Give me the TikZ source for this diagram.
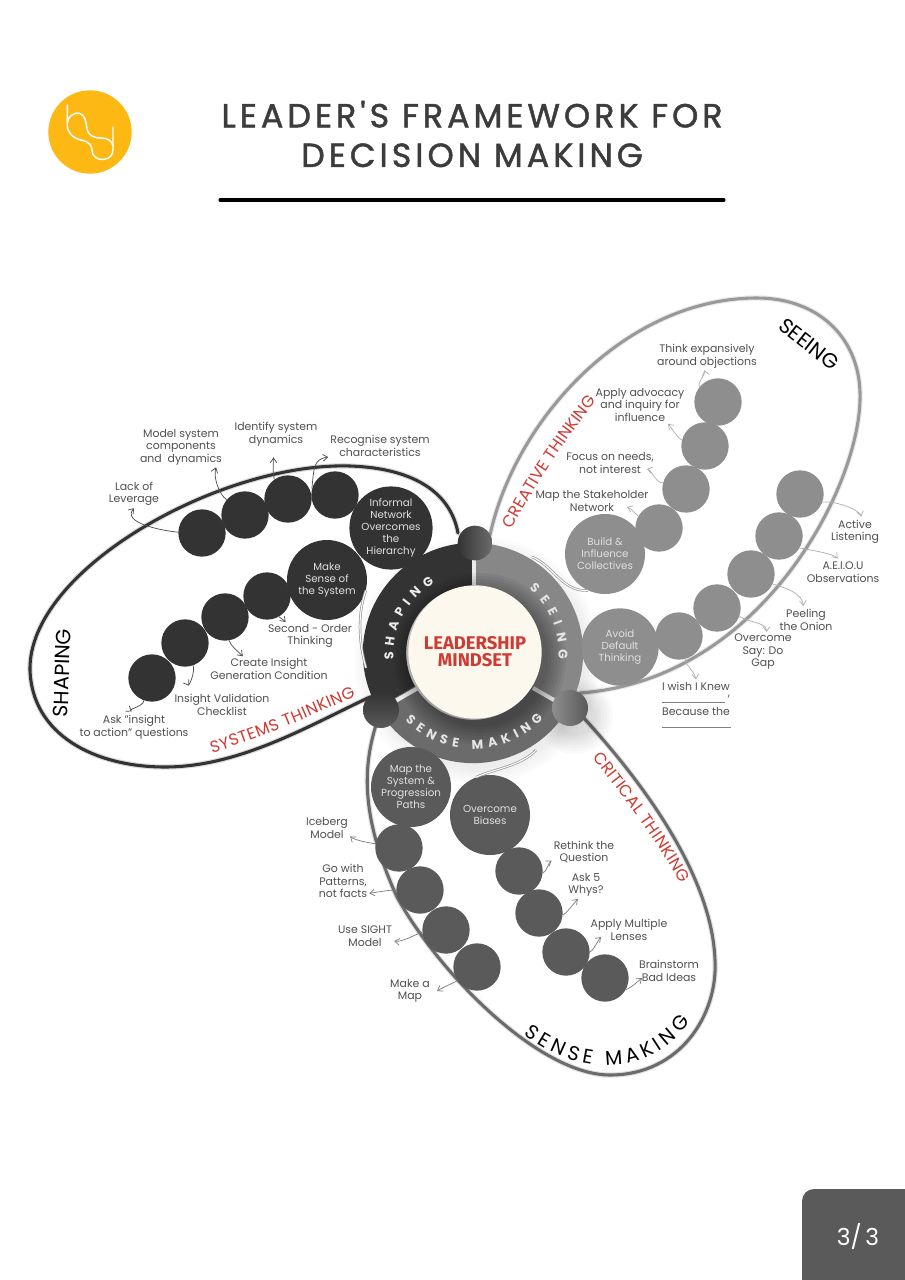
\documentclass[tikz,border=0pt]{standalone}
\usepackage{fontspec}
\setmainfont{Poppins}
\newfontfamily\titlefont[LetterSpace=12,RawFeature={embolden=1.4}]{Poppins}
\newfontfamily\corefont{Fira Sans}
\usetikzlibrary{arrows.meta,decorations.text,calc,shadings}
\definecolor{shapecol}{HTML}{333333}
\definecolor{seecol}{HTML}{8E8E8E}
\definecolor{sensecol}{HTML}{5A5A5A}
\definecolor{redlab}{HTML}{CF3A32}
\definecolor{labcol}{HTML}{505050}
\definecolor{cream}{HTML}{FDF8EE}
\definecolor{logocol}{HTML}{FDB813}
\tikzset{
  bead/.style={circle,inner sep=0pt,minimum size=35.5pt,fill=#1,draw=none},
  hub/.style={circle,inner sep=0pt,minimum size=60pt,fill=#1,draw=none,text=white!88!black,align=center,
     font=\fontsize{7.7pt}{9pt}\selectfont},
  lab/.style={align=center,text=labcol,inner sep=1.5pt,font=\fontsize{8.2pt}{9.4pt}\selectfont},
  arr/.style={draw=#1,line width=.55pt,-{Straight Barb[length=3.5pt,width=5pt]}},
  petal/.style={draw=#1,line width=2.3pt,line cap=round,line join=round},
  halo/.style={draw=#1,line width=4pt,opacity=.18,line cap=round},
  link/.style={draw=#1,double=white,double distance=.8pt,line width=.55pt},
  bigtext/.style={text=black,inner sep=0pt,font=\fontsize{15.5pt}{16pt}\selectfont},
  knob/.style={circle,inner sep=0pt,minimum size=#1,draw=none},
}
\begin{document}
\begin{tikzpicture}[x=.75pt,y=-.75pt]
\useasboundingbox (0,0) rectangle (905,1280);
\fill[white] (0,0) rectangle (905,1280);

% header
\node[circle,fill=logocol,minimum size=62.5pt,inner sep=0pt] (logo) at (90,132) {};
\draw[white,line width=1.1pt,line cap=round]
  (67.3,105) -- (67.3,125) .. controls (67.3,133) and (73,138) .. (81,140)
  .. controls (90,142) and (92,146) .. (92,150) .. controls (92,156) and (97,160) .. (103,159.5)
  .. controls (110,159) and (113,155) .. (113,149) -- (113,127);
\draw[white,line width=1.1pt,line cap=round]
  (67.5,122) .. controls (69,115) and (75,112) .. (80,113.5)
  .. controls (85,115) and (86,122) .. (87,129) .. controls (88,135) and (93,138) .. (101,138)
  .. controls (108,138) and (112,141) .. (113,146);
\node[inner sep=0pt,text=labcol!75!black,font=\titlefont\fontsize{25pt}{29.4pt}\selectfont,align=center] (title) at (472,134)
  {LEADER'S FRAMEWORK FOR\\[0.3pt]DECISION MAKING};
\coordinate (ruleL) at (220,200);
\coordinate (ruleR) at (724,200);
\draw[black,line width=2.3pt,line cap=round] (ruleL) -- (ruleR);

% page tab
\fill[sensecol] (905,1189) -- (814,1189) arc[start angle=-90,end angle=-180,radius=12] -- (802,1280) -- (905,1280) -- cycle;
\node[text=white,inner sep=0pt,font=\fontsize{17.5pt}{20pt}\selectfont] (page) at (858,1236) {3/\,3};

% petal halos and outlines
\def\shapepath{(458,533) .. controls (450,490) and (410,468) .. (350,466) .. controls (220,462) and (28,570) .. (30,670)
  .. controls (32,735) and (95,767) .. (165,767) .. controls (240,767) and (310,725) .. (370,697)}
\def\seepath{(490,535) .. controls (515,420) and (625,298) .. (757,298) .. controls (820,298) and (862,340) .. (860,400)
  .. controls (858,490) and (760,680) .. (580,693)}
\def\sensepath{(376,725) .. controls (362,770) and (362,820) .. (397,897) .. controls (440,975) and (540,1075) .. (610,1075)
  .. controls (680,1075) and (718,1015) .. (715,960) .. controls (712,880) and (650,790) .. (582,716)}
\draw[halo=shapecol] \shapepath;
\draw[petal=shapecol] \shapepath;
\draw[halo=seecol] \seepath;
\draw[petal=seecol!90!white] \seepath;
\draw[halo=sensecol] \sensepath;
\draw[petal=sensecol!90!white] \sensepath;

% soft shadow round the ring and the right knob
\foreach \r in {124,121,...,108} \fill[black,opacity=.012] (478,660) circle (\r);
\foreach \r in {38,35,...,18} \fill[black,opacity=.018] (575,716) circle (\r);

% ring
\draw[shapecol,line width=32.5pt] plot[domain=90:210,samples=50] ({473+88.5*cos(\x)},{653-88.5*sin(\x)});
\draw[seecol!95!black,line width=32.5pt] plot[domain=-30:90,samples=50] ({473+88.5*cos(\x)},{653-88.5*sin(\x)});
\draw[sensecol!90!white,line width=32.5pt] plot[domain=210:330,samples=50] ({473+88.5*cos(\x)},{653-88.5*sin(\x)});
\coordinate (gapA) at (474,585);
\coordinate (gapAo) at (474,548);
\coordinate (gapB) at (418,688);
\coordinate (gapBo) at (385,707);
\coordinate (gapC) at (533,688);
\coordinate (gapCo) at (566,707);
\draw[white!92!black,line width=3pt] (gapA) -- (gapAo);
\draw[white!92!black,line width=3pt] (gapB) -- (gapBo);
\draw[white!92!black,line width=3pt] (gapC) -- (gapCo);
% shadow of the core on the ring
\foreach \r in {86,83,...,68} \fill[black,opacity=.05] (480,659) circle (\r);

% ring text
\path[decorate,decoration={text along path,text align={fit to path},
  text={|\color{white!92!black}\bfseries\fontsize{9.5pt}{10pt}\selectfont|SHAPING}}]
  plot[domain=185:119,samples=40] ({473+79.5*cos(\x)},{653-79.5*sin(\x)});
\path[decorate,decoration={text along path,text align={fit to path},
  text={|\color{white!90!black}\bfseries\fontsize{9.5pt}{10pt}\selectfont|SEEING}}]
  plot[domain=49:-4,samples=40] ({473+85.5*cos(\x)},{653-85.5*sin(\x)});
\path[decorate,decoration={text along path,text align={fit to path},
  text={|\color{white!90!black}\bfseries\fontsize{9.5pt}{10pt}\selectfont|SENSE MAKING}}]
  plot[domain=225:317,samples=50] ({473+96*cos(\x)},{653-96*sin(\x)});

% core
\node[circle,fill=cream,minimum size=100pt,inner sep=0pt,text=redlab,align=center,
  font=\corefont\bfseries\fontsize{13.8pt}{12.8pt}\selectfont] (core) at (475,652) {\raisebox{-1pt}{LEADERSHIP}\\\raisebox{-1pt}{MINDSET}};

% knobs
\node[knob=26pt,left color=shapecol,right color=gray!85!black] (k1) at (475,543) {};
\node[knob=27pt,top color=shapecol,bottom color=sensecol] (k2) at (381,710) {};
\node[knob=27pt,left color=seecol,right color=sensecol] (k3) at (570,708) {};

% SHAPING beads
\node[bead=shapecol] (a1) at (202,533) {};
\node[bead=shapecol] (a2) at (245,515) {};
\node[bead=shapecol] (a3) at (288,499) {};
\node[bead=shapecol] (a4) at (335,495) {};
\node[hub=shapecol] (ah) at (391,528) {Informal\\Network\\Overcomes\\the\\Hierarchy};
\node[bead=shapecol] (b1) at (152,678) {};
\node[bead=shapecol] (b2) at (185,643) {};
\node[bead=shapecol] (b3) at (225,617) {};
\node[bead=shapecol] (b4) at (267,596) {};
\node[hub=shapecol] (bh) at (327,580) {Make\\Sense of\\the System};

% SEEING beads
\node[bead=seecol] (c1) at (718,402) {};
\node[bead=seecol] (c2) at (705,446) {};
\node[bead=seecol] (c3) at (686,489) {};
\node[bead=seecol] (c4) at (659,528) {};
\node[hub=seecol] (ch) at (605,554) {Build \&\\Influence\\Collectives};
\node[bead=seecol] (d1) at (800,494) {};
\node[bead=seecol] (d2) at (779,536) {};
\node[bead=seecol] (d3) at (751,574) {};
\node[bead=seecol] (d4) at (717,608) {};
\node[bead=seecol] (d5) at (679,636) {};
\node[hub=seecol,minimum size=58pt] (dh) at (620,647) {Avoid\\Default\\Thinking};

% SENSE MAKING beads
\node[hub=sensecol] (eh) at (411,787) {Map the\\System \&\\Progression\\Paths};
\node[bead=sensecol] (e1) at (399,848) {};
\node[bead=sensecol] (e2) at (420,890) {};
\node[bead=sensecol] (e3) at (446,930) {};
\node[bead=sensecol] (e4) at (477,967) {};
\node[hub=sensecol] (fh) at (490,815) {Overcome\\Biases};
\node[bead=sensecol] (f1) at (519,871) {};
\node[bead=sensecol] (f2) at (539,913) {};
\node[bead=sensecol] (f3) at (566,952) {};
\node[bead=sensecol] (f4) at (605,978) {};

% ring-to-hub links
\coordinate (linkA) at (532,557);
\draw[link=gray!80] (linkA) .. controls (553,565) and (562,592) .. (ch.-115);
\coordinate (linkB) at (366,668);
\draw[link=gray!80] (linkB) .. controls (358,640) and (358,612) .. (bh.-15);
\coordinate (linkC) at (536,750);
\draw[link=gray!80] (linkC) .. controls (522,766) and (490,770) .. (fh.110);

% labels
\node[lab] (lack) at (134,494) {Lack of\\Leverage};
\node[lab] (model) at (181,447) {Model system\\components\\and\ \ dynamics};
\node[lab] (ident) at (276,434) {Identify system\\dynamics};
\node[lab] (recog) at (380,446) {Recognise system\\characteristics};
\node[lab] (second) at (310,636) {Second - Order\\Thinking};
\node[lab] (create) at (269,669) {Create Insight\\Generation Condition};
\node[lab] (valid) at (222,705) {Insight Validation\\Checklist};
\node[lab] (askq) at (134,727) {Ask "insight\\to action" questions};
\node[lab] (think) at (707,356) {Think expansively\\around objections};
\node[lab] (advoc) at (640,405) {Apply advocacy\\and inquiry for\\influence};
\node[lab] (focus) at (610,463) {Focus on needs,\\not interest};
\node[lab] (stake) at (592,501) {Map the Stakeholder\\Network};
\node[lab] (active) at (855,532) {Active\\Listening};
\node[lab] (aeiou) at (843,572) {A.E.I.O.U\\Observations};
\node[lab] (onion) at (806,620) {Peeling\\the Onion};
\node[lab] (say) at (763,652) {Overcome\\Say: Do\\Gap};
\node[lab] (wish) at (696,686) {I wish I Knew};
\node[lab] (comma) at (729,697) {,};
\node[lab] (because) at (696,711) {Because the};
\node[lab] (iceb) at (327,828) {Iceberg\\Model};
\node[lab] (patt) at (343,881) {Go with\\Patterns,\\not facts};
\node[lab] (sight) at (365,936) {Use SIGHT\\Model};
\node[lab] (mapl) at (410,991) {Make a\\Map};
\node[lab] (rethink) at (584,852) {Rethink the\\Question};
\node[lab] (whys) at (586,885) {Ask 5\\Whys?};
\node[lab] (lens) at (629,930) {Apply Multiple\\Lenses};
\node[lab] (storm) at (669,971) {Brainstorm\\Bad Ideas};

% blank rules under the sentence stems
\coordinate (blankA) at (662,702);
\coordinate (blankB) at (725,702);
\coordinate (blankC) at (662,727);
\coordinate (blankD) at (731,727);
\draw[gray,line width=.6pt] (blankA) -- (blankB);
\draw[gray,line width=.6pt] (blankC) -- (blankD);

% connectors: shaping
\draw[arr=labcol] (a1.178) .. controls +(-20,-2) and +(-12,14) .. (lack.south);
\draw[arr=labcol] (a2.140) .. controls +(-8,-5) and +(-3,9) .. (model.-30);
\draw[arr=labcol,shorten >=7pt] (a3.125) .. controls +(-2,-8) and +(0,8) .. (ident.-100);
\draw[arr=labcol] (a4.165) .. controls +(2,-22) and +(-14,2) .. (recog.192);
\draw[arr=labcol] (b4.-60) .. controls +(3,3) and +(-3,-3) .. (second.150);
\draw[arr=labcol] (b3.-80) .. controls +(2,6) and +(-5,-5) .. (create.154);
\draw[arr=labcol,shorten >=6pt] (b2.-70) .. controls +(2,6) and +(-4,-6) .. (valid.156);
\draw[arr=labcol,shorten >=2pt] (b1.-110) .. controls +(0,6) and +(-6,-4) .. (askq.north);
% connectors: seeing
\draw[arr=seecol!70!white] (c1.140) .. controls +(-3,-3) and +(1,4) .. (think.-100);
\draw[arr=seecol!70!white] (c2.165) .. controls +(-5,-2) and +(3,3) .. (advoc.-34);
\coordinate (tipFocus) at (647,469);
\draw[arr=seecol!70!white] (c3.165) .. controls +(-6,1) and +(4,1) .. (tipFocus);
\coordinate (tipStake) at (627,507);
\draw[arr=seecol!70!white] (c4.150) .. controls +(-4,-3) and +(5,2) .. (tipStake);
\draw[arr=seecol!70!white,shorten >=1pt] (d1.-20) .. controls +(12,-2) and +(-2,-8) .. (active.65);
\draw[arr=seecol!70!white,shorten >=1pt] (d2.-30) .. controls +(10,2) and +(-5,-6) .. (aeiou.110);
\draw[arr=seecol!70!white,shorten >=1pt] (d3.-25) .. controls +(14,4) and +(-2,-14) .. (onion.100);
\draw[arr=seecol!70!white] (d4.-20) .. controls +(7,6) and +(0,-10) .. (say.80);
\draw[arr=seecol!70!white] (d5.-75) .. controls +(1,8) and +(-1,-8) .. (wish.north);
% connectors: sense making
\draw[arr=gray] (e1.170) .. controls +(-6,-1) and +(5,4) .. (iceb.-20);
\draw[arr=gray] (e2.180) .. controls +(-8,0) and +(7,-1) .. (patt.-25);
\draw[arr=gray] (e3.185) .. controls +(-8,3) and +(8,1) .. (sight.-10);
\coordinate (tipMap) at (437,991);
\draw[arr=gray] (e4.-145) .. controls +(-6,3) and +(5,-3) .. (tipMap);
\draw[arr=gray] (f1.-5) .. controls +(4,-2) and +(-3,2) .. (rethink.-165);
\draw[arr=gray] (f2.-5) .. controls +(4,-2) and +(-3,3) .. (whys.-120);
\coordinate (tipLens) at (601,937);
\draw[arr=gray] (f3.0) .. controls +(4,-2) and +(-3,3) .. (tipLens);
\coordinate (tipStorm) at (642,978);
\draw[arr=gray] (f4.-30) .. controls +(6,-3) and +(-6,5) .. (tipStorm);

% petal and thinking titles
\node[bigtext,rotate=88] (ttlA) at (62,673) {SHAPING};
\node[bigtext,rotate=-38] (ttlB) at (809,344) {SEEING};
\path[decorate,decoration={text along path,text align={fit to path},
  text={|\fontsize{15pt}{16pt}\selectfont|SENSE MAKING}}]
  (524,1034) .. controls (565,1068) and (640,1088) .. (690,1022);
\path[decorate,decoration={text along path,text align={fit to path},
  text={|\color{redlab}\fontsize{12.3pt}{13pt}\selectfont|SYSTEMS THINKING}}]
  (212,753) .. controls (262,738) and (306,718) .. (356,696);
\path[decorate,decoration={text along path,text align={fit to path},
  text={|\color{redlab}\fontsize{12.3pt}{13pt}\selectfont|CREATIVE THINKING}}]
  (512,530) .. controls (536,484) and (564,441) .. (597,401);
\path[decorate,decoration={text along path,text align={fit to path},
  text={|\color{redlab}\fontsize{12.3pt}{13pt}\selectfont|CRITICAL THINKING}}]
  (592.5,757) .. controls (608,778) and (655,835) .. (680.5,884);
\end{tikzpicture}
\end{document}
